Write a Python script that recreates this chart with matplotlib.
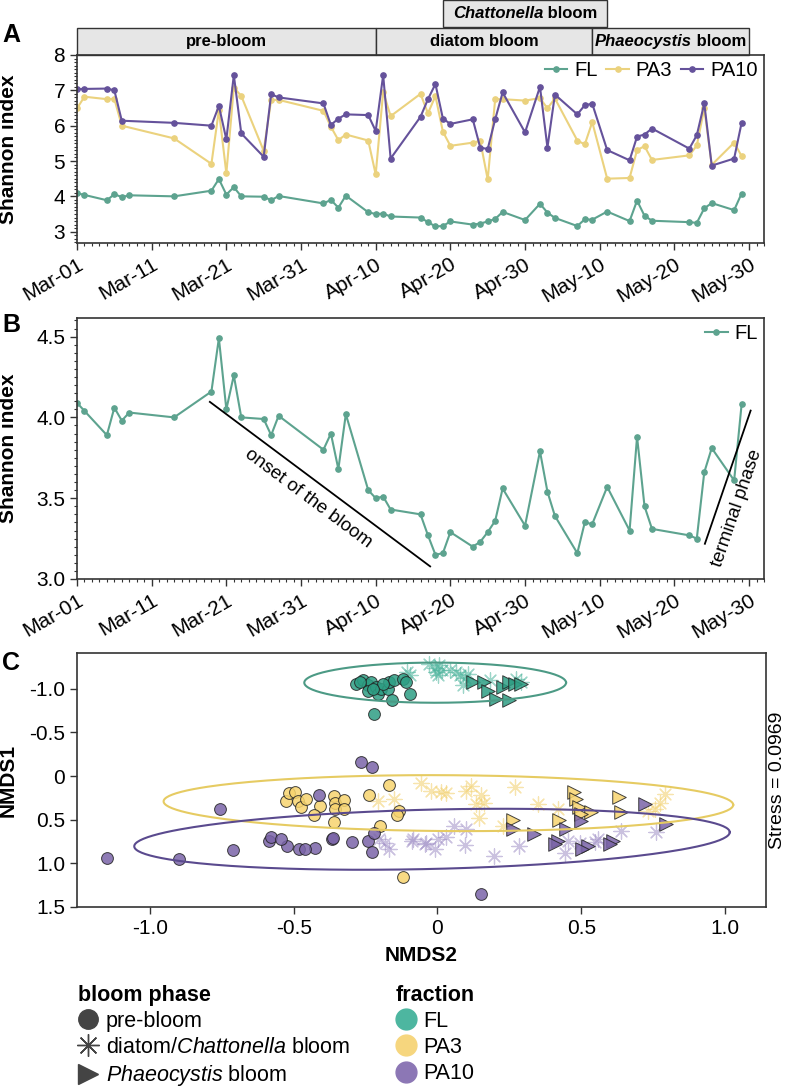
import numpy as np
import pandas as pd
import matplotlib
matplotlib.use("Agg")
import matplotlib.pyplot as plt
import matplotlib.dates as mdates
import matplotlib.ticker as mticker
from matplotlib.patches import Rectangle
from matplotlib.lines import Line2D
from matplotlib.transforms import blended_transform_factory
from matplotlib.offsetbox import TextArea, HPacker, AnnotationBbox

plt.rcParams['font.family'] = ['Liberation Sans', 'DejaVu Sans']
plt.rcParams['axes.unicode_minus'] = False
plt.rcParams['mathtext.fontset'] = 'custom'
plt.rcParams['mathtext.rm'] = 'Liberation Sans'
plt.rcParams['mathtext.it'] = 'Liberation Sans:italic'

# ---------------- data: Shannon index time series ----------------
dates = pd.to_datetime([
    "2021-03-01", "2021-03-02", "2021-03-05", "2021-03-06", "2021-03-07", "2021-03-08",
    "2021-03-14", "2021-03-19", "2021-03-20", "2021-03-21", "2021-03-22", "2021-03-23",
    "2021-03-26", "2021-03-27", "2021-03-28", "2021-04-03", "2021-04-04", "2021-04-05",
    "2021-04-06", "2021-04-09", "2021-04-10", "2021-04-11", "2021-04-12", "2021-04-16",
    "2021-04-17", "2021-04-18", "2021-04-19", "2021-04-20", "2021-04-23", "2021-04-24",
    "2021-04-25", "2021-04-26", "2021-04-27", "2021-04-30", "2021-05-02", "2021-05-03",
    "2021-05-04", "2021-05-07", "2021-05-08", "2021-05-09", "2021-05-11", "2021-05-14",
    "2021-05-15", "2021-05-16", "2021-05-17", "2021-05-22", "2021-05-23", "2021-05-24",
    "2021-05-25", "2021-05-28", "2021-05-29"])

fl = [4.09, 4.04, 3.89, 4.06, 3.98, 4.03, 4.00, 4.16, 4.49, 4.05, 4.26, 4.00,
      3.99, 3.89, 4.01, 3.80, 3.90, 3.68, 4.02, 3.55, 3.50, 3.51, 3.43, 3.40,
      3.27, 3.15, 3.16, 3.29, 3.20, 3.23, 3.29, 3.36, 3.56, 3.33, 3.79, 3.54,
      3.39, 3.16, 3.35, 3.34, 3.57, 3.30, 3.88, 3.45, 3.31, 3.27, 3.25, 3.66,
      3.81, 3.61, 4.08]
pa3 = [6.49, 6.82, 6.75, 6.76, 6.00, np.nan, 5.64, 4.92, 6.44, 4.65, 7.08, 6.84,
       5.29, 6.73, 6.73, 6.42, 5.97, 5.59, 5.75, 5.58, 4.62, 6.96, 6.27, 6.90,
       6.35, 6.84, 5.83, 5.43, 5.52, 5.57, 4.48, 6.75, 6.75, 6.71, 6.78, 6.49,
       6.77, 5.58, 5.47, 6.10, 4.50, 4.52, 5.31, 5.42, 5.03, 5.16, 5.44, 6.49,
       4.89, 5.52, 5.14]
pa10 = [7.03, 7.04, 7.05, 7.00, 6.14, np.nan, 6.08, 6.00, 6.56, 5.61, 7.43, 5.78,
        5.12, 6.89, 6.80, 6.63, 6.02, 6.20, 6.32, 6.30, 5.85, 7.43, 5.07, 6.25,
        6.75, 7.18, 6.20, 6.05, 6.18, 5.38, 5.34, 6.18, 6.94, 5.81, 7.10, 5.38,
        6.88, 6.32, 6.58, 6.62, 5.31, 5.02, 5.69, 5.75, 5.92, 5.35, 5.73, 6.63,
        4.87, 5.07, 6.08]

tick_dates = pd.to_datetime(["2021-03-01", "2021-03-11", "2021-03-21", "2021-03-31",
                             "2021-04-10", "2021-04-20", "2021-04-30", "2021-05-10",
                             "2021-05-20", "2021-05-30"])

phase_labels = [[("pre-bloom", "normal")],
                [("diatom bloom", "normal")],
                [("Phaeocystis", "italic"), (" bloom", "normal")]]
phase_start = pd.to_datetime(["2021-03-01", "2021-04-10", "2021-05-09"])
phase_end = pd.to_datetime(["2021-04-10", "2021-05-09", "2021-05-30"])
chatt_label = [("Chattonella", "italic"), (" bloom", "normal")]
chatt_start, chatt_end = pd.to_datetime(["2021-04-19", "2021-05-11"])

onset_line_t = pd.to_datetime(["2021-03-18 19:00", "2021-04-17 07:00"])
onset_line_v = [4.096, 3.078]
terminal_line_t = pd.to_datetime(["2021-05-24 02:00", "2021-05-30 05:00"])
terminal_line_v = [3.218, 4.042]

# ---------------- data: NMDS ----------------
fl_pre_x = [-0.283, -0.26, -0.242, -0.231, -0.242, -0.213, -0.208, -0.196, -0.173, -0.167,
            -0.15, -0.121, -0.111, -0.094, -0.158, -0.219, -0.271, -0.19, -0.225]
fl_pre_y = [-1.057, -1.095, -1.038, -1.077, -0.98, -1.02, -0.943, -1.0, -1.0, -1.077,
            -1.095, -1.115, -1.077, -0.943, -0.866, -0.713, -1.077, -1.057, -1.0]
fl_dia_x = [-0.097, -0.107, -0.028, -0.01, 0.005, -0.005, 0.016, 0.001, 0.042, 0.065,
            0.08, 0.096, 0.088, 0.105, 0.181, 0.274, 0.291]
fl_dia_y = [-1.153, -1.192, -1.287, -1.238, -1.268, -1.192, -1.21, -1.153, -1.21, -1.192,
            -1.153, -1.123, -1.038, -1.172, -1.095, -1.115, -1.077]
fl_pha_x = [0.123, 0.163, 0.175, 0.204, 0.227, 0.25, 0.268, 0.291, 0.248]
fl_pha_y = [-1.077, -1.077, -0.98, -0.885, -1.02, -1.077, -1.057, -1.057, -0.866]

pa3_pre_x = [-0.526, -0.515, -0.495, -0.486, -0.474, -0.457, -0.41, -0.43, -0.358, -0.355,
             -0.355, -0.326, -0.326, -0.237, -0.167, -0.132, -0.14, -0.12, -0.358, -0.2]
pa3_pre_y = [0.284, 0.195, 0.18, 0.284, 0.36, 0.264, 0.341, 0.445, 0.234, 0.303,
             0.379, 0.272, 0.372, 0.218, 0.1, 0.399, 0.448, 1.16, 0.525, 0.57]
pa3_dia_x = [-0.207, -0.15, -0.057, -0.022, 0.013, 0.03, 0.1, 0.117, 0.152, 0.163,
             0.135, 0.268, 0.349, 0.418, 0.79, 0.772, 0.755, 0.731, 0.146, 0.227]
pa3_dia_y = [0.284, 0.264, 0.08, 0.169, 0.18, 0.195, 0.169, 0.111, 0.218, 0.303,
             0.322, 0.13, 0.322, 0.379, 0.207, 0.303, 0.379, 0.399, 0.475, 0.571]
pa3_pha_x = [0.474, 0.482, 0.491, 0.532, 0.631, 0.637, 0.262, 0.421, 0.5]
pa3_pha_y = [0.18, 0.257, 0.36, 0.41, 0.245, 0.41, 0.502, 0.502, 0.43]

pa10_pre_x = [-0.265, -0.228, -0.413, -0.756, -1.15, -0.897, -0.71, -0.584, -0.523, -0.48,
              -0.424, -0.367, -0.297, -0.24, -0.228, 0.15, -0.578, -0.544, -0.46, -0.364, -0.219]
pa10_pre_y = [-0.165, -0.1, 0.218, 0.379, 0.935, 0.946, 0.847, 0.743, 0.8, 0.839,
              0.82, 0.724, 0.755, 0.743, 0.87, 1.356, 0.70, 0.716, 0.83, 0.705, 0.647]
pa10_dia_x = [-0.202, -0.184, -0.167, -0.089, -0.086, -0.045, -0.01, -0.039, 0.001, 0.03,
              0.059, 0.1, 0.094, 0.198, 0.285, 0.442, 0.453, 0.494, 0.546, 0.558, 0.639, 0.761]
pa10_dia_y = [0.724, 0.762, 0.831, 0.744, 0.716, 0.782, 0.839, 0.762, 0.724, 0.693,
              0.571, 0.609, 0.793, 0.916, 0.801, 0.877, 0.744, 0.762, 0.755, 0.716, 0.629, 0.64]
pa10_pha_x = [0.262, 0.337, 0.418, 0.448, 0.5, 0.523, 0.61, 0.72, 0.795, 0.407, 0.503, 0.598]
pa10_pha_y = [0.609, 0.667, 0.744, 0.609, 0.514, 0.801, 0.744, 0.322, 0.552, 0.78, 0.839, 0.78]

# confidence ellipses: centre x, centre y, semi-axis x, semi-axis y, tilt (slope dy/dx)
ell_fl = (-0.008, -1.07, 0.455, 0.23, 0.0)
ell_pa3 = (0.038, 0.31, 0.99, 0.32, 0.02)
ell_pa10 = (-0.019, 0.724, 1.035, 0.34, -0.078)
stress = 0.0969

# ---------------- colours ----------------
line_col = {"FL": "#5DA38F", "PA3": "#EBD27E", "PA10": "#65529B"}
pt_col = {"FL": "#2E9E84", "PA3": "#F7D46E", "PA10": "#7A64A8"}
ast_col = {"FL": "#4CB49C", "PA3": "#F2CF6A", "PA10": "#9F8EC6"}
ell_col = {"FL": "#4C9A85", "PA3": "#E6CB62", "PA10": "#5A4A8E"}
leg_col = {"FL": "#4DB6A0", "PA3": "#F6D67E", "PA10": "#8C77B5"}
spine_col = "#333333"

W, H = 788, 1089
fig = plt.figure(figsize=(W / 100, H / 100), dpi=100)


def box(l, t, r, b):
    return [l / W, 1 - b / H, (r - l) / W, (b - t) / H]


axA = fig.add_axes(box(77, 55, 764, 243))
axB = fig.add_axes(box(77, 318, 764, 579))
axC = fig.add_axes(box(77, 653, 766, 907))

TICK = 15
YLAB_X = -0.086


def style_axes(ax):
    for s in ax.spines.values():
        s.set_color(spine_col)
        s.set_linewidth(1.2)
    ax.tick_params(which='major', direction='out', length=5, width=1, color=spine_col,
                   labelsize=TICK)
    ax.tick_params(which='minor', direction='out', length=2.5, width=0.8, color=spine_col)


def date_axis(ax):
    ax.set_xlim(pd.Timestamp("2021-03-01"), pd.Timestamp("2021-06-01"))
    ax.xaxis.set_major_locator(mticker.FixedLocator(mdates.date2num(tick_dates)))
    ax.xaxis.set_minor_locator(mdates.DayLocator())
    ax.xaxis.set_major_formatter(mdates.DateFormatter("%b-%d"))
    for lab in ax.get_xticklabels():
        lab.set_rotation(30)
        lab.set_ha('right')
        lab.set_rotation_mode('anchor')


def mixed_text(ax, x, y, parts, trans, size):
    boxes = [TextArea(t, textprops=dict(fontsize=size, fontweight='bold', fontstyle=st))
             for t, st in parts]
    pack = HPacker(children=boxes, align='baseline', pad=0, sep=0)
    ab = AnnotationBbox(pack, (x, y), xycoords=trans, frameon=False,
                        box_alignment=(0.5, 0.5), pad=0, annotation_clip=False)
    ax.add_artist(ab)


# ---------------- panel A ----------------
for name, vals in [("FL", fl), ("PA3", pa3), ("PA10", pa10)]:
    v = np.array(vals, dtype=float)
    m = ~np.isnan(v)
    axA.plot(dates[m], v[m], '-o', color=line_col[name], lw=1.5, ms=3.8, label=name)
axA.set_ylim(2.68, 8)
axA.set_yticks([3, 4, 5, 6, 7, 8])
axA.yaxis.set_minor_locator(mticker.MultipleLocator(0.1))
style_axes(axA)
date_axis(axA)
axA.set_ylabel("Shannon index", fontsize=15, fontweight='bold')
axA.yaxis.set_label_coords(YLAB_X, 0.5)
axA.legend(loc='upper right', ncol=3, frameon=False, fontsize=14.5, handlelength=1.1,
           handletextpad=0.35, columnspacing=0.45, borderaxespad=0.1, borderpad=0.2)

trA = blended_transform_factory(axA.transData, axA.transAxes)
row_lo, row_hi = 1.0, 1.1436
for lab, s, e in zip(phase_labels, phase_start, phase_end):
    x0, x1 = mdates.date2num(s), mdates.date2num(e)
    axA.add_patch(Rectangle((x0, row_lo), x1 - x0, row_hi - row_lo, transform=trA,
                            clip_on=False, fc="#E6E6E6", ec=spine_col, lw=1))
    mixed_text(axA, (x0 + x1) / 2, (row_lo + row_hi) / 2, lab, trA, 12)
c0, c1 = mdates.date2num(chatt_start), mdates.date2num(chatt_end)
axA.add_patch(Rectangle((c0, 1.149), c1 - c0, 0.1436, transform=trA, clip_on=False,
                        fc="#E6E6E6", ec=spine_col, lw=1))
mixed_text(axA, (c0 + c1) / 2, 1.149 + 0.0718, chatt_label, trA, 12)

# ---------------- panel B ----------------
axB.plot(dates, fl, '-o', color=line_col["FL"], lw=1.5, ms=3.8, label="FL")
axB.set_ylim(3.0, 4.615)
axB.set_yticks([3.0, 3.5, 4.0, 4.5])
axB.yaxis.set_major_formatter(mticker.FormatStrFormatter('%.1f'))
axB.yaxis.set_minor_locator(mticker.MultipleLocator(0.05))
style_axes(axB)
date_axis(axB)
axB.set_ylabel("Shannon index", fontsize=15, fontweight='bold')
axB.yaxis.set_label_coords(YLAB_X, 0.5)
axB.legend(loc='upper right', frameon=False, fontsize=14.5, handlelength=1.1,
           handletextpad=0.35, borderaxespad=0.1, borderpad=0.2)

axB.plot(onset_line_t, onset_line_v, color='black', lw=1.3)
axB.plot(terminal_line_t, terminal_line_v, color='black', lw=1.3)
fig.canvas.draw()


def line_angle(ax, ts, vs):
    p = ax.transData.transform(np.column_stack([mdates.date2num(ts), vs]))
    return np.degrees(np.arctan2(p[1, 1] - p[0, 1], p[1, 0] - p[0, 0]))


def mid(ts, vs):
    return mdates.num2date(mdates.date2num(ts).mean()), np.mean(vs)


axB.annotate("onset of the bloom", mid(onset_line_t, onset_line_v), xytext=(-12, -14),
             textcoords='offset pixels', ha='center', va='center', fontsize=13.5,
             rotation=line_angle(axB, onset_line_t, onset_line_v), rotation_mode='anchor')
axB.annotate("terminal phase", mid(terminal_line_t, terminal_line_v), xytext=(9, -31),
             textcoords='offset pixels', ha='center', va='center', fontsize=13.5,
             rotation=line_angle(axB, terminal_line_t, terminal_line_v),
             rotation_mode='anchor', annotation_clip=False)

# ---------------- panel C ----------------
groups = [
    ("FL", fl_pre_x, fl_pre_y, fl_dia_x, fl_dia_y, fl_pha_x, fl_pha_y, ell_fl),
    ("PA3", pa3_pre_x, pa3_pre_y, pa3_dia_x, pa3_dia_y, pa3_pha_x, pa3_pha_y, ell_pa3),
    ("PA10", pa10_pre_x, pa10_pre_y, pa10_dia_x, pa10_dia_y, pa10_pha_x, pa10_pha_y, ell_pa10),
]
t = np.linspace(0, 2 * np.pi, 240)
for name, px, py, dx, dy, tx, ty, ell in groups:
    axC.scatter(dx, dy, marker=(8, 2, 0), s=120, color=ast_col[name], alpha=0.55,
                linewidths=0.9, zorder=2)
    axC.scatter(px, py, marker='o', s=72, fc=pt_col[name], ec='#222222', lw=0.7,
                alpha=0.85, zorder=3)
    axC.scatter(tx, ty, marker='>', s=95, fc=pt_col[name], ec='#222222', lw=0.7,
                alpha=0.85, zorder=3)
    cx, cy, a, b, slope = ell
    ex = cx + a * np.cos(t)
    ey = cy + b * np.sin(t) + slope * a * np.cos(t)
    axC.plot(ex, ey, color=ell_col[name], lw=1.5, zorder=4)

axC.set_xlim(-1.253, 1.142)
axC.set_ylim(1.5, -1.41)
axC.set_xticks([-1.0, -0.5, 0, 0.5, 1.0])
axC.set_yticks([-1.0, -0.5, 0, 0.5, 1.0, 1.5])
fmt = mticker.FuncFormatter(lambda v, p: "0" if abs(v) < 1e-9 else f"{v:.1f}")
axC.xaxis.set_major_formatter(fmt)
axC.yaxis.set_major_formatter(fmt)
style_axes(axC)
axC.set_xlabel("NMDS2", fontsize=15, fontweight='bold', labelpad=6)
axC.set_ylabel("NMDS1", fontsize=15, fontweight='bold')
axC.yaxis.set_label_coords(YLAB_X, 0.5)
axC.text(1.016, 0.5, f"Stress = {stress}", transform=axC.transAxes, rotation=90,
         ha='center', va='center', fontsize=14)

# panel letters
for lab, y in [("A", 35), ("B", 325), ("C", 663)]:
    fig.text(2 / W, 1 - y / H, lab, fontsize=18, fontweight='bold', ha='left', va='center')

# ---------------- bottom legends ----------------
dark = "#444444"
phase_handles = [
    Line2D([], [], ls='', marker='o', ms=14, color=dark),
    Line2D([], [], ls='', marker=(8, 2, 0), ms=16, mew=1.0, color=dark),
    Line2D([], [], ls='', marker='>', ms=14, color=dark),
]
phase_texts = ["pre-bloom", "diatom/$\\it{Chattonella}$ bloom", "$\\it{Phaeocystis}$ bloom"]
frac_handles = [Line2D([], [], ls='', marker='o', ms=15, color=leg_col[k])
                for k in ["FL", "PA3", "PA10"]]
frac_texts = ["FL", "PA3", "PA10"]

for handles, texts, title, x in [(phase_handles, phase_texts, "bloom phase", 68),
                                 (frac_handles, frac_texts, "fraction", 386)]:
    fig.legend(handles, texts, title=title, loc='upper left',
               bbox_to_anchor=(x / W, 1 - 975 / H), frameon=False, fontsize=15.5,
               title_fontproperties={'weight': 'bold', 'size': 15.5},
               alignment='left', handlelength=1.0, handletextpad=0.3,
               labelspacing=0.24, borderpad=0.45, borderaxespad=0)

fig.savefig("out.png", dpi=100)
